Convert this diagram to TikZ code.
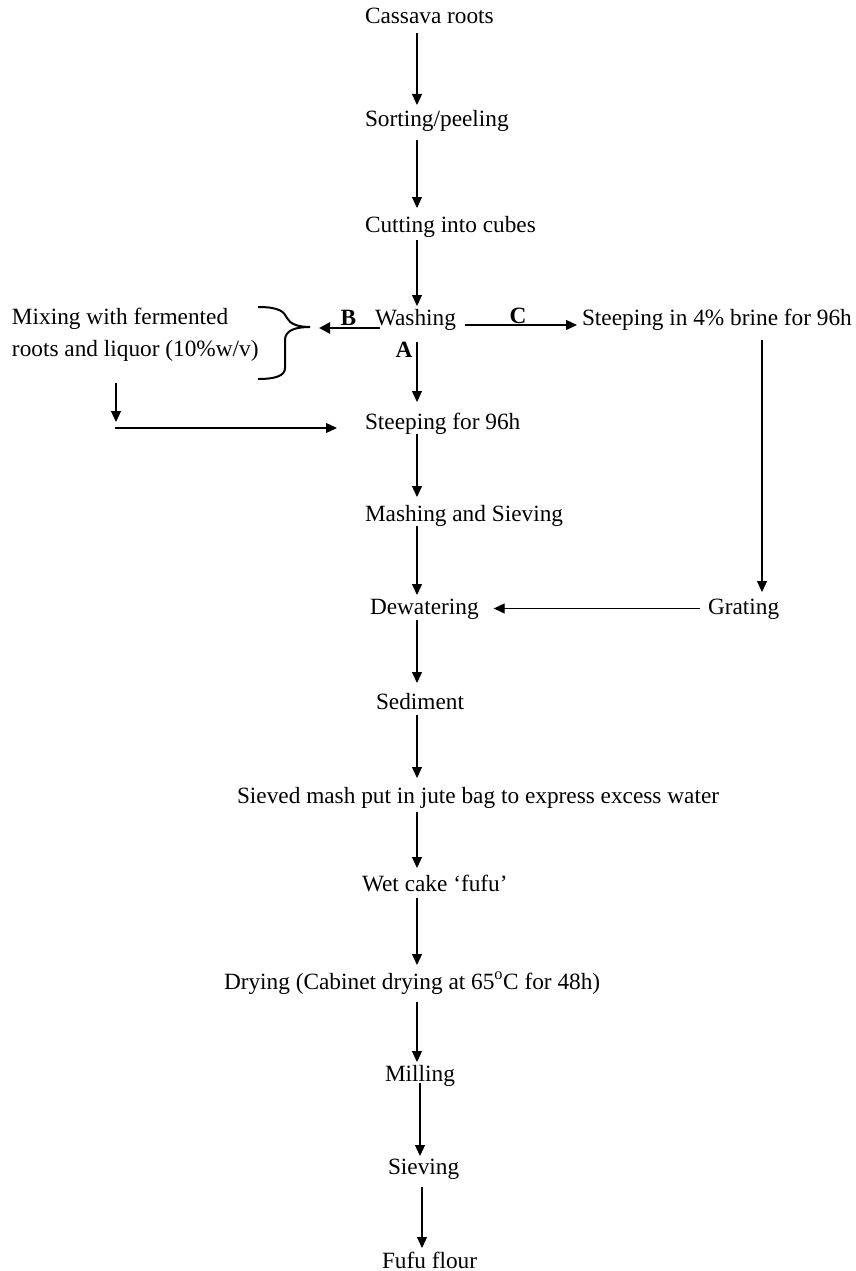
\documentclass[tikz,border=0pt]{standalone}
\usepackage{fontspec}
\setmainfont{Liberation Serif}
\usetikzlibrary{arrows.meta}
\begin{document}
\begin{tikzpicture}[x=1pt,y=-1pt,
  every node/.style={inner sep=0pt, outer sep=0pt, text height=16pt, text depth=5pt, anchor=base west,
    font=\fontsize{23.3}{28}\selectfont},
  lbl/.style={font=\fontsize{23.3}{28}\selectfont\bfseries, anchor=base},
  arr/.style={draw, line width=1.1pt, -{Triangle[length=11pt,width=10pt]}},
  thickarr/.style={draw, line width=2.6pt, -{Triangle[length=11pt,width=11pt]}},
  bracestyle/.style={draw, line width=2pt}]
\useasboundingbox (0,0) rectangle (856,1271);
% main column
\node (cassava) at (365,24) {Cassava roots};
\node (sorting) at (365,127) {Sorting/peeling};
\node (cutting) at (365,232) {Cutting into cubes};
\node (washing) at (375,325) {Washing};
\node (steep) at (365,429) {Steeping for 96h};
\node (mash) at (365,521) {Mashing and Sieving};
\node (dewater) at (370,614) {Dewatering};
\node (sediment) at (376,709) {Sediment};
\node (sieved) at (237,803) {Sieved mash put in jute bag to express excess water};
\node (wetcake) at (362,891) {Wet cake ‘fufu’};
\node (drying) at (224,989) {Drying (Cabinet drying at 65\textsuperscript{o}C for 48h)};
\node (milling) at (385,1081) {Milling};
\node (sieving) at (388,1174) {Sieving};
\node (flour) at (382,1268) {Fufu flour};
% side nodes
\node (mix1) at (12,324) {Mixing with fermented};
\node (mix2) at (12,356) {roots and liquor (10\%w/v)};
\node (brine) at (582,325) {Steeping in 4\% brine for 96h};
\node (grating) at (708,614) {Grating};
% labels
\node[lbl] (labB) at (348.5,325) {B};
\node[lbl] (labC) at (518,323) {C};
\node[lbl] (labA) at (404,357) {A};
% helper coordinates
\coordinate (ax) at (417,0);
\coordinate (ax2) at (420,0);
\coordinate (ax3) at (422,0);
\coordinate (rx) at (762,0);
\coordinate (j) at (116,428);
\coordinate (bracetip) at (310,327);
% main arrows
\draw[arr, shorten <=4pt, shorten >=6pt] (cassava.south -| ax) -- (sorting.north -| ax);
\draw[arr, shorten <=8pt, shorten >=8pt] (sorting.south -| ax) -- (cutting.north -| ax);
\draw[arr, shorten <=3pt, shorten >=3pt] (cutting.south -| ax) -- (washing.north -| ax);
\draw[arr, shorten <=12pt, shorten >=11pt] (washing.south -| ax) -- (steep.north -| ax);
\draw[arr, shorten <=0pt, shorten >=8pt] (steep.south -| ax) -- (mash.north -| ax);
\draw[arr, shorten <=0pt, shorten >=3pt] (mash.south -| ax) -- (dewater.north -| ax);
\draw[arr, shorten <=1pt, shorten >=10pt] (dewater.south -| ax) -- (sediment.north -| ax);
\draw[arr, shorten <=1pt, shorten >=9pt] (sediment.south -| ax) -- (sieved.north -| ax);
\draw[arr, shorten <=4pt, shorten >=7pt] (sieved.south -| ax) -- (wetcake.north -| ax);
\draw[arr, shorten <=2pt, shorten >=8pt] (wetcake.south -| ax) -- (drying.north -| ax);
\draw[arr, shorten <=8pt, shorten >=3pt] (drying.south -| ax) -- (milling.north -| ax);
\draw[arr, shorten <=-3pt, shorten >=2pt] (milling.south -| ax2) -- (sieving.north -| ax2);
\draw[arr, shorten <=8pt, shorten >=4pt] (sieving.south -| ax3) -- (flour.north -| ax3);
% branch C
\draw[arr, shorten <=9pt, shorten >=5pt] (washing.base east) -- (brine.base west);
\draw[arr, shorten <=10pt, shorten >=6pt] (brine.south -| rx) -- (grating.north -| rx);
\draw[arr, shorten <=8pt, shorten >=15pt] (grating.west) -- (dewater.east |- grating.west);
% branch B
\draw[thickarr, shorten >=9pt] ([xshift=5pt, yshift=-3pt]washing.base west) -- (bracetip |- 0,328);
\draw[bracestyle] (258,307) .. controls (280,307) and (284,312) .. (287,318)
  .. controls (290,324) and (298,327) .. (bracetip)
  .. controls (296,327) and (285,330) .. (285,340) -- (285,368)
  .. controls (285,376) and (275,379) .. (258,379);
\draw[arr, shorten <=22pt, shorten >=6pt] (mix2.south -| j) -- (j);
\draw[arr, shorten <=-1pt, shorten >=28pt] (j) -- (j -| steep.west);
\end{tikzpicture}
\end{document}
